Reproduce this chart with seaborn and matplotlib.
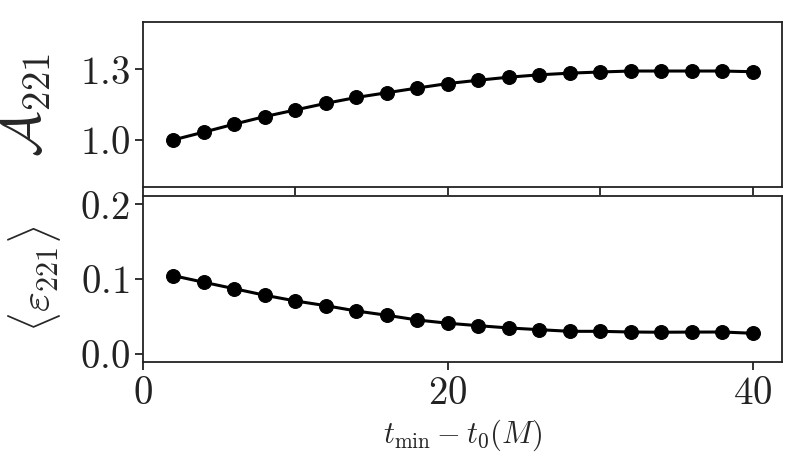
import numpy as np
import pandas as pd
import seaborn as sns
import matplotlib.pyplot as plt
from matplotlib.ticker import MultipleLocator, FixedLocator, FuncFormatter

# t_min - t_0 values (M)
t_min = [2, 4, 6, 8, 10, 12, 14, 16, 18, 20,
         22, 24, 26, 28, 30, 32, 34, 36, 38, 40]

# amplitude ratio A_221
amp_221 = [1.000, 1.033, 1.067, 1.099, 1.127, 1.155, 1.180, 1.200, 1.220, 1.239,
           1.253, 1.266, 1.276, 1.283, 1.288, 1.292, 1.292, 1.292, 1.292, 1.289]

# mean mismatch <eps_221>
eps_221 = [0.1044, 0.0956, 0.0870, 0.0783, 0.0707, 0.0644, 0.0573, 0.0516, 0.0453, 0.0410,
           0.0377, 0.0347, 0.0324, 0.0302, 0.0302, 0.0293, 0.0290, 0.0292, 0.0293, 0.0276]

top_yticks = [1.0, 1.3]

df = pd.DataFrame({'t': t_min, 'A': amp_221, 'eps': eps_221})

sns.set_theme(style='ticks', rc={
    'axes.edgecolor': '#222222',
    'axes.linewidth': 1.3,
    'xtick.major.size': 6,
    'ytick.major.size': 6,
    'xtick.major.width': 1.3,
    'ytick.major.width': 1.3,
    'xtick.color': '#222222',
    'ytick.color': '#222222',
})
plt.rcParams['mathtext.fontset'] = 'cm'
plt.rcParams['font.family'] = ['DejaVu Serif']

fig = plt.figure(figsize=(8.05, 4.68), dpi=100)
ax_top = fig.add_axes([0.1776, 0.6004, 0.7938, 0.3526])
ax_bot = fig.add_axes([0.1776, 0.2265, 0.7938, 0.3547])

# Step 1: amplitude panel
sns.lineplot(data=df, x='t', y='A', ax=ax_top, color='black',
             marker='o', markersize=10, linewidth=2.2,
             markeredgecolor='black')
ax_top.set_xlim(0, 41.9)
ax_top.set_ylim(0.8, 1.5)
ax_top.xaxis.set_major_locator(MultipleLocator(10))
ax_top.set_xticklabels([])
ax_top.yaxis.set_major_locator(FixedLocator(top_yticks))
ax_top.yaxis.set_major_formatter(FuncFormatter(lambda v, p: r'$%.1f$' % v))
ax_top.set_xlabel('')
ax_top.set_ylabel(r'$\mathcal{A}_{221}$', fontsize=40)
ax_top.yaxis.set_label_coords(-0.14, 0.5)

# Step 2: mismatch panel
sns.lineplot(data=df, x='t', y='eps', ax=ax_bot, color='black',
             marker='o', markersize=10, linewidth=2.2,
             markeredgecolor='black')
ax_bot.set_xlim(0, 41.9)
ax_bot.set_ylim(-0.0107, 0.2107)
ax_bot.xaxis.set_major_locator(MultipleLocator(20))
ax_bot.xaxis.set_major_formatter(FuncFormatter(lambda v, p: r'$%d$' % v))
ax_bot.yaxis.set_major_locator(MultipleLocator(0.1))
ax_bot.yaxis.set_major_formatter(FuncFormatter(lambda v, p: r'$%.1f$' % v))
ax_bot.set_xlabel(r'$t_{\rm min}-t_0(M)$', fontsize=22)
ax_bot.set_ylabel(r'$\langle\varepsilon_{221}\rangle$', fontsize=31)
ax_bot.yaxis.set_label_coords(-0.125, 0.5)

for ax in (ax_top, ax_bot):
    ax.tick_params(labelsize=28)

fig.savefig('out.png', dpi=100)
